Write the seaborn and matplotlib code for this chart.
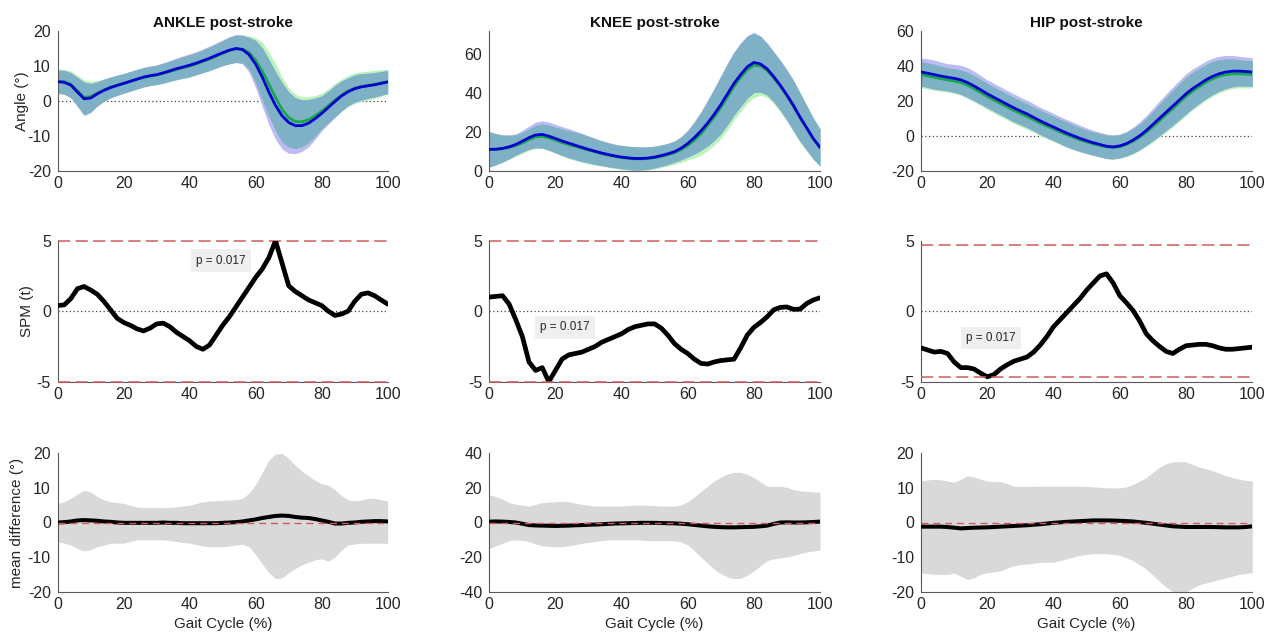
import numpy as np
import pandas as pd
import matplotlib
matplotlib.use("Agg")
import matplotlib.pyplot as plt
import seaborn as sns

# ---------------- data ----------------
x = np.arange(0, 101, 2)      # gait cycle (%)

joints = ["ANKLE post-stroke", "KNEE post-stroke", "HIP post-stroke"]

# top row: group means and SDs (green = group 1, blue = group 2)
ankle_green_mean = [5.6, 5.5, 4.7, 2.9, 1.0, 1.2, 2.2, 3.1, 3.9, 4.5,
                    5.0, 5.6, 6.2, 6.7, 7.1, 7.4, 7.9, 8.4, 9.0, 9.5,
                    10.0, 10.6, 11.3, 12.0, 12.8, 13.6, 14.4, 14.9, 14.8, 13.8,
                    11.6, 8.5, 4.8, 1.0, -2.5, -4.8, -5.9, -6.0, -5.4, -4.3,
                    -2.9, -1.4, 0.2, 1.6, 2.8, 3.6, 4.1, 4.4, 4.7, 5.1,
                    5.5]
ankle_green_sd = [3.5, 3.6, 3.8, 4.4, 5.0, 4.4, 3.6, 3.2, 3.0, 2.9,
                  2.9, 2.8, 2.8, 2.8, 2.8, 2.8, 2.9, 2.9, 3.0, 3.1,
                  3.2, 3.2, 3.3, 3.4, 3.5, 3.6, 3.8, 3.9, 4.0, 4.8,
                  6.5, 8.3, 9.2, 9.6, 9.3, 8.5, 7.8, 7.2, 6.6, 5.8,
                  5.1, 4.9, 4.8, 4.6, 4.5, 4.4, 4.2, 4.1, 4.0, 3.8,
                  3.6]
ankle_blue_mean = [5.5, 5.3, 4.5, 2.5, 0.6, 0.8, 2.0, 3.0, 3.8, 4.4,
                   5.0, 5.6, 6.2, 6.8, 7.2, 7.5, 8.0, 8.6, 9.2, 9.7,
                   10.2, 10.8, 11.5, 12.2, 13.0, 13.8, 14.5, 15.0, 14.7, 13.2,
                   10.5, 6.8, 2.5, -1.3, -4.3, -6.2, -7.1, -7.1, -6.4, -5.1,
                   -3.6, -1.9, -0.2, 1.4, 2.6, 3.5, 4.0, 4.3, 4.6, 5.0,
                   5.4]
ankle_blue_sd = [3.3, 3.4, 3.6, 4.2, 4.8, 4.2, 3.5, 3.2, 3.0, 2.9,
                 2.8, 2.8, 2.8, 2.8, 2.8, 2.8, 2.9, 3.0, 3.1, 3.2,
                 3.3, 3.3, 3.4, 3.5, 3.6, 3.7, 3.9, 4.0, 4.1, 5.0,
                 6.8, 8.4, 9.4, 9.7, 9.5, 8.8, 8.0, 7.4, 6.8, 5.9,
                 5.0, 4.7, 4.6, 4.3, 4.0, 3.9, 3.8, 3.6, 3.5, 3.4,
                 3.3]

knee_green_mean = [11.0, 11.0, 11.3, 12.0, 13.0, 14.3, 16.0, 17.4, 17.7, 16.9,
                   15.7, 14.5, 13.4, 12.6, 11.6, 10.6, 9.7, 8.8, 8.0, 7.3,
                   6.8, 6.4, 6.1, 6.1, 6.3, 6.7, 7.4, 8.2, 9.3, 10.8,
                   13.0, 15.7, 19.0, 23.2, 27.7, 32.6, 38.0, 43.5, 48.0, 52.0,
                   54.3, 54.0, 51.7, 47.8, 43.5, 38.6, 33.2, 27.3, 21.8, 16.4,
                   12.0]
knee_green_sd = [9.3, 8.2, 7.0, 6.2, 5.5, 5.4, 5.5, 6.0, 6.3, 6.6,
                 6.8, 7.0, 7.2, 7.3, 7.3, 7.1, 6.8, 6.5, 6.3, 6.2,
                 6.2, 6.2, 6.2, 6.1, 6.0, 5.9, 5.8, 5.8, 6.0, 6.6,
                 7.5, 9.2, 11.0, 12.8, 14.5, 16.0, 17.0, 17.4, 17.5, 17.2,
                 16.5, 15.2, 13.8, 13.3, 13.2, 13.2, 13.2, 12.8, 11.8, 10.8,
                 9.8]
knee_blue_mean = [11.0, 11.1, 11.5, 12.3, 13.5, 15.2, 17.0, 18.4, 18.7, 17.8,
                  16.6, 15.3, 14.2, 13.1, 12.0, 11.0, 10.0, 9.1, 8.3, 7.6,
                  7.0, 6.6, 6.3, 6.3, 6.5, 7.0, 7.8, 8.7, 9.8, 11.6,
                  14.0, 17.0, 20.5, 24.5, 29.0, 34.0, 39.5, 45.0, 49.5, 53.5,
                  55.8, 55.0, 52.5, 48.5, 44.0, 39.0, 33.5, 27.5, 22.0, 16.5,
                  12.0]
knee_blue_sd = [9.0, 8.0, 7.0, 6.2, 5.5, 5.6, 6.0, 6.6, 7.0, 7.2,
                7.3, 7.4, 7.5, 7.4, 7.3, 7.0, 6.8, 6.5, 6.3, 6.1,
                6.0, 6.0, 6.0, 5.9, 5.8, 5.6, 5.5, 5.5, 5.5, 6.0,
                7.0, 8.5, 10.0, 11.8, 13.5, 15.0, 16.0, 16.4, 16.5, 16.2,
                15.5, 14.5, 13.5, 13.0, 13.0, 13.0, 13.0, 12.5, 11.5, 10.5,
                9.5]

hip_green_mean = [35.0, 34.3, 33.5, 32.7, 32.0, 31.4, 30.5, 29.0, 27.0, 24.8,
                  22.5, 20.5, 18.5, 16.5, 14.5, 12.8, 11.0, 9.2, 7.3, 5.6,
                  4.0, 2.2, 0.6, -0.9, -2.3, -3.5, -4.6, -5.5, -6.3, -6.6,
                  -6.2, -5.0, -3.2, -0.8, 2.0, 5.3, 8.7, 12.2, 15.6, 19.1,
                  22.6, 25.6, 28.1, 30.6, 32.6, 34.1, 35.0, 35.5, 35.5, 35.3,
                  35.1]
hip_green_sd = [7.5, 7.5, 7.5, 7.2, 7.0, 7.1, 7.3, 7.5, 7.5, 7.5,
                7.5, 7.5, 7.5, 7.5, 7.5, 7.4, 7.3, 7.3, 7.3, 7.3,
                7.3, 7.3, 7.3, 7.2, 7.0, 6.9, 6.8, 6.8, 6.8, 6.8,
                6.8, 7.0, 7.3, 7.6, 8.0, 8.8, 9.5, 10.0, 10.5, 10.8,
                11.0, 10.8, 10.5, 10.3, 10.0, 9.5, 9.0, 8.5, 8.0, 7.9,
                7.8]
hip_blue_mean = [36.5, 35.8, 35.0, 34.2, 33.5, 32.9, 32.0, 30.5, 28.5, 26.3,
                 24.0, 22.0, 20.0, 18.0, 16.0, 14.2, 12.5, 10.5, 8.5, 6.7,
                 5.0, 3.2, 1.5, 0.0, -1.5, -2.8, -4.0, -5.0, -6.0, -6.4,
                 -5.8, -4.5, -2.5, 0.0, 3.0, 6.5, 10.0, 13.5, 17.0, 20.5,
                 24.0, 27.0, 29.5, 32.0, 34.0, 35.5, 36.5, 37.0, 37.0, 36.8,
                 36.5]
hip_blue_sd = [8.0, 8.2, 8.3, 8.0, 7.8, 8.0, 8.3, 8.6, 8.5, 8.2,
               8.0, 8.0, 8.0, 8.0, 8.0, 7.9, 7.8, 7.8, 7.8, 7.8,
               7.8, 7.8, 7.8, 7.7, 7.5, 7.3, 7.1, 7.0, 7.0, 6.9,
               6.8, 7.0, 7.5, 8.0, 8.5, 9.3, 10.0, 10.5, 11.0, 11.3,
               11.5, 11.3, 11.0, 10.8, 10.5, 10.0, 9.5, 9.0, 8.5, 8.3,
               8.2]

# middle row: SPM t statistic, critical threshold, p value
ankle_spm = [0.4, 0.45, 0.9, 1.6, 1.75, 1.5, 1.2, 0.7, 0.1, -0.5,
             -0.8, -1.0, -1.25, -1.4, -1.2, -0.9, -0.85, -1.1, -1.5, -1.8,
             -2.1, -2.5, -2.7, -2.4, -1.7, -1.0, -0.4, 0.3, 1.0, 1.7,
             2.4, 3.0, 3.8, 5.0, 3.4, 1.8, 1.4, 1.1, 0.8, 0.6,
             0.4, 0.0, -0.3, -0.2, 0.0, 0.7, 1.2, 1.3, 1.1, 0.8,
             0.5]
knee_spm = [1.0, 1.05, 1.1, 0.5, -0.6, -1.8, -3.6, -4.2, -4.0, -5.0,
            -4.2, -3.4, -3.1, -3.0, -2.9, -2.7, -2.5, -2.2, -2.0, -1.8,
            -1.6, -1.3, -1.1, -1.0, -0.9, -0.9, -1.2, -1.7, -2.3, -2.7,
            -3.0, -3.4, -3.7, -3.75, -3.6, -3.5, -3.45, -3.4, -2.6, -1.7,
            -1.15, -0.8, -0.4, 0.1, 0.27, 0.3, 0.13, 0.15, 0.55, 0.8,
            0.95]
hip_spm = [-2.6, -2.75, -2.9, -2.85, -3.0, -3.6, -4.0, -4.0, -4.1, -4.4,
           -4.65, -4.5, -4.1, -3.8, -3.55, -3.4, -3.25, -2.9, -2.4, -1.8,
           -1.1, -0.6, -0.1, 0.4, 0.9, 1.5, 2.0, 2.5, 2.65, 2.0,
           1.1, 0.6, 0.05, -0.7, -1.6, -2.1, -2.5, -2.85, -3.0, -2.7,
           -2.45, -2.4, -2.35, -2.35, -2.45, -2.6, -2.7, -2.7, -2.65, -2.6,
           -2.55]
spm_thresholds = [5.0, 5.0, 4.69]
p_labels = ["p = 0.017", "p = 0.017", "p = 0.017"]

# bottom row: mean difference with its band
ankle_diff = [0.0, 0.1, 0.3, 0.6, 0.7, 0.6, 0.5, 0.3, 0.2, 0.0,
              -0.1, -0.1, -0.1, -0.1, -0.1, -0.1, 0.0, -0.1, -0.1, -0.2,
              -0.2, -0.2, -0.2, -0.2, -0.2, -0.1, 0.0, 0.1, 0.3, 0.6,
              0.9, 1.3, 1.6, 1.9, 2.0, 1.9, 1.6, 1.4, 1.3, 1.0,
              0.6, 0.2, -0.3, -0.3, -0.1, 0.0, 0.2, 0.3, 0.4, 0.4,
              0.3]
ankle_diff_hi = [5.5, 6.0, 7.0, 8.3, 9.3, 8.8, 7.5, 6.5, 6.0, 5.8,
                 5.5, 5.0, 4.5, 4.3, 4.3, 4.3, 4.3, 4.4, 4.5, 4.8,
                 5.0, 5.5, 6.0, 6.2, 6.3, 6.4, 6.5, 6.6, 7.0, 8.5,
                 11.0, 14.5, 18.0, 19.8, 20.0, 18.5, 16.5, 14.8, 13.5, 12.2,
                 11.2, 10.8, 9.5, 7.8, 6.5, 6.3, 6.5, 7.0, 7.0, 6.6,
                 6.2]
ankle_diff_lo = [-5.5, -6.0, -6.5, -7.5, -8.2, -7.8, -7.0, -6.5, -6.0, -6.0,
                 -6.0, -5.5, -5.0, -5.0, -5.0, -5.0, -5.0, -5.2, -5.5, -5.8,
                 -6.0, -6.4, -6.8, -7.0, -7.0, -7.0, -6.8, -6.5, -6.3, -7.0,
                 -9.3, -12.0, -14.5, -16.2, -16.0, -14.5, -13.3, -12.2, -11.5, -10.8,
                 -10.5, -11.2, -10.0, -8.0, -6.5, -6.2, -6.0, -6.0, -6.0, -6.0,
                 -6.0]
knee_diff = [0.5, 0.6, 0.5, 0.3, 0.0, -0.7, -1.5, -1.7, -1.8, -1.9,
             -2.0, -1.9, -1.8, -1.6, -1.5, -1.3, -1.2, -1.0, -0.8, -0.6,
             -0.5, -0.4, -0.3, -0.2, -0.2, -0.2, -0.3, -0.4, -0.5, -0.7,
             -1.0, -1.4, -1.8, -2.2, -2.5, -2.7, -2.8, -2.8, -2.7, -2.6,
             -2.5, -2.2, -1.8, -0.8, 0.0, 0.1, 0.0, 0.0, 0.1, 0.3,
             0.5]
knee_diff_hi = [16.0, 15.0, 13.5, 11.5, 10.5, 10.0, 9.5, 10.5, 11.5, 11.8,
                12.0, 12.3, 12.0, 11.2, 10.5, 10.0, 9.5, 9.5, 9.5, 9.5,
                9.5, 9.8, 10.0, 10.0, 10.0, 9.8, 9.5, 9.5, 9.5, 10.2,
                12.0, 14.8, 18.0, 21.0, 24.0, 26.3, 28.0, 29.0, 29.0, 27.8,
                26.0, 23.5, 21.0, 20.8, 21.0, 20.3, 19.0, 18.3, 18.0, 17.7,
                17.5]
knee_diff_lo = [-15.0, -13.5, -12.0, -10.5, -10.0, -10.3, -11.0, -12.5, -13.5, -13.8,
                -14.0, -14.0, -13.5, -12.8, -12.0, -11.5, -11.0, -10.5, -10.0, -10.0,
                -10.0, -10.0, -10.0, -10.2, -10.5, -10.5, -10.5, -10.5, -10.5, -11.3,
                -13.0, -16.3, -20.0, -23.5, -27.0, -29.5, -31.5, -32.5, -32.3, -30.5,
                -28.0, -25.0, -22.0, -21.0, -20.5, -20.0, -19.0, -18.0, -17.0, -16.5,
                -16.0]
hip_diff = [-1.2, -1.2, -1.2, -1.2, -1.3, -1.5, -1.7, -1.6, -1.5, -1.45,
            -1.4, -1.3, -1.2, -1.1, -1.0, -0.9, -0.8, -0.65, -0.5, -0.3,
            -0.1, 0.05, 0.2, 0.3, 0.4, 0.5, 0.6, 0.6, 0.6, 0.55,
            0.5, 0.4, 0.3, 0.1, -0.1, -0.35, -0.6, -0.85, -1.1, -1.2,
            -1.3, -1.3, -1.3, -1.3, -1.3, -1.35, -1.4, -1.4, -1.4, -1.3,
            -1.1]
hip_diff_hi = [12.0, 12.3, 12.5, 12.3, 12.0, 11.6, 12.5, 13.5, 13.2, 12.5,
               12.0, 11.8, 11.8, 11.2, 10.5, 10.4, 10.4, 10.5, 10.5, 10.5,
               10.5, 10.5, 10.5, 10.5, 10.5, 10.4, 10.3, 10.2, 10.0, 10.0,
               10.0, 10.3, 11.0, 12.0, 13.0, 14.5, 16.0, 17.0, 17.5, 17.6,
               17.5, 16.8, 16.0, 15.5, 15.0, 14.3, 13.5, 13.0, 12.5, 12.2,
               12.0]
hip_diff_lo = [-14.5, -14.8, -15.0, -15.0, -15.0, -14.6, -15.5, -16.5, -16.0, -15.0,
               -14.5, -14.3, -14.0, -13.2, -12.5, -12.2, -12.0, -11.8, -11.5, -11.5,
               -11.5, -11.0, -10.5, -10.0, -9.5, -9.2, -9.0, -9.0, -9.0, -9.2,
               -9.5, -10.2, -11.0, -12.2, -13.5, -15.2, -17.0, -18.7, -20.0, -20.3,
               -20.0, -19.0, -18.0, -17.5, -17.0, -16.5, -16.0, -15.5, -15.0, -14.7,
               -14.5]

# ---------------- style ----------------
sns.set_theme(style="white")
plt.rcParams["font.family"] = ["Liberation Sans", "DejaVu Sans"]
plt.rcParams["axes.unicode_minus"] = False

TXT = "#262626"
AX = "#5a5a5a"
GREEN_BAND = "#b9f5b9"
BLUE_BAND = "#bcbcf2"
OVERLAP = "#7fb1c6"
GREEN_LINE = "#17a84a"
BLUE_LINE = "#0000d0"
RED = "#cd5c5c"
GREY_BAND = "#d9d9d9"

fig = plt.figure(figsize=(12.7, 6.36), dpi=100)

col_left = [57.7, 489.3, 921.0]
col_w = [330.0, 330.7, 331.3]
row_top = [31.0, 240.7, 453.3]
row_bot = [170.7, 381.7, 591.7]
W, H = 1270.0, 636.0

def make_ax(r, c):
    return fig.add_axes([col_left[c] / W, 1 - row_bot[r] / H,
                         col_w[c] / W, (row_bot[r] - row_top[r]) / H])

def style(ax, ylim, yticks):
    ax.set_xlim(0, 100)
    ax.set_ylim(*ylim)
    ax.set_xticks([0, 20, 40, 60, 80, 100])
    ax.set_yticks(yticks)
    for s in ["top", "right"]:
        ax.spines[s].set_visible(False)
    for s in ["left", "bottom"]:
        ax.spines[s].set_color(AX)
        ax.spines[s].set_linewidth(0.8)
    ax.tick_params(direction="in", length=3, width=0.8, colors=AX,
                   labelcolor=TXT, labelsize=11.5)
    ax.tick_params(axis="y", pad=5)
    ax.tick_params(axis="x", pad=4)
    ax.set_xlabel("")
    ax.set_ylabel("")
    ax.grid(False)

top_data = [
    (ankle_green_mean, ankle_green_sd, ankle_blue_mean, ankle_blue_sd),
    (knee_green_mean, knee_green_sd, knee_blue_mean, knee_blue_sd),
    (hip_green_mean, hip_green_sd, hip_blue_mean, hip_blue_sd),
]
top_ylims = [(-20, 20), (0, 72), (-20, 60)]
top_yticks = [[-20, -10, 0, 10, 20], [0, 20, 40, 60], [-20, 0, 20, 40, 60]]

spm_data = [ankle_spm, knee_spm, hip_spm]
p_pos = [(42.0, 3.58), (15.3, -1.15), (13.6, -1.9)]

diff_data = [
    (ankle_diff, ankle_diff_lo, ankle_diff_hi),
    (knee_diff, knee_diff_lo, knee_diff_hi),
    (hip_diff, hip_diff_lo, hip_diff_hi),
]
diff_ylims = [(-20, 20), (-40, 40), (-20, 20)]
diff_yticks = [[-20, -10, 0, 10, 20], [-40, -20, 0, 20, 40], [-20, -10, 0, 10, 20]]

for c in range(3):
    # ---------- top row ----------
    ax = make_ax(0, c)
    gm, gs, bm, bs = [np.asarray(a, float) for a in top_data[c]]
    lo_g, hi_g = gm - gs, gm + gs
    lo_b, hi_b = bm - bs, bm + bs
    ax.axhline(0, color="#444444", lw=0.9, ls=(0, (1, 2)), zorder=0.5)
    ax.fill_between(x, lo_g, hi_g, color=GREEN_BAND, lw=0, zorder=1)
    ax.fill_between(x, lo_b, hi_b, color=BLUE_BAND, lw=0, zorder=1.1)
    ax.fill_between(x, np.maximum(lo_g, lo_b), np.minimum(hi_g, hi_b),
                    color=OVERLAP, lw=0, zorder=1.2)
    sns.lineplot(x=x, y=gm, ax=ax, color=GREEN_LINE, linewidth=2.0, zorder=3, legend=False)
    sns.lineplot(x=x, y=bm, ax=ax, color=BLUE_LINE, linewidth=2.0, zorder=4, legend=False)
    style(ax, top_ylims[c], top_yticks[c])
    ax.set_title(joints[c], fontsize=11, fontweight="bold", color="#111111", pad=3)
    if c == 0:
        ax.set_ylabel("Angle (°)", fontsize=11, color=TXT)
        ax.yaxis.set_label_coords(-0.088, 0.5)

    # ---------- middle row ----------
    ax = make_ax(1, c)
    thr = spm_thresholds[c]
    ax.axhline(0, color="#444444", lw=0.9, ls=(0, (1, 2)), zorder=0.5)
    ax.plot([0, 100], [thr, thr], color=RED, lw=1.1, ls=(0, (8, 3.5)), zorder=2, clip_on=False)
    ax.plot([0, 100], [-thr, -thr], color=RED, lw=1.1, ls=(0, (8, 3.5)), zorder=5, clip_on=False)
    sns.lineplot(x=x, y=np.asarray(spm_data[c], float), ax=ax, color="black",
                 linewidth=3.4, zorder=3, legend=False)
    style(ax, (-5, 5), [-5, 0, 5])
    px, py = p_pos[c]
    ax.text(px, py, p_labels[c], fontsize=8.5, color=TXT, ha="left", va="center",
            zorder=6, bbox=dict(boxstyle="square,pad=0.45", fc="#efefef", ec="none"))
    if c == 0:
        ax.set_ylabel("SPM (t)", fontsize=11, color=TXT)
        ax.yaxis.set_label_coords(-0.073, 0.5)

    # ---------- bottom row ----------
    ax = make_ax(2, c)
    dm, dlo, dhi = [np.asarray(a, float) for a in diff_data[c]]
    ax.fill_between(x, dlo, dhi, color=GREY_BAND, lw=0, zorder=1)
    sns.lineplot(x=x, y=dm, ax=ax, color="black", linewidth=2.9, zorder=3, legend=False)
    ax.plot([0, 100], [0, 0], color=RED, lw=1.0, ls=(0, (5, 3.5)), zorder=4)
    style(ax, diff_ylims[c], diff_yticks[c])
    ax.set_xlabel("Gait Cycle (%)", fontsize=11, color=TXT)
    ax.xaxis.set_label_coords(0.5, -0.185)
    if c == 0:
        ax.set_ylabel("mean difference (°)", fontsize=11, color=TXT)
        ax.yaxis.set_label_coords(-0.102, 0.5)

fig.savefig("out.png", dpi=100, facecolor="white")
